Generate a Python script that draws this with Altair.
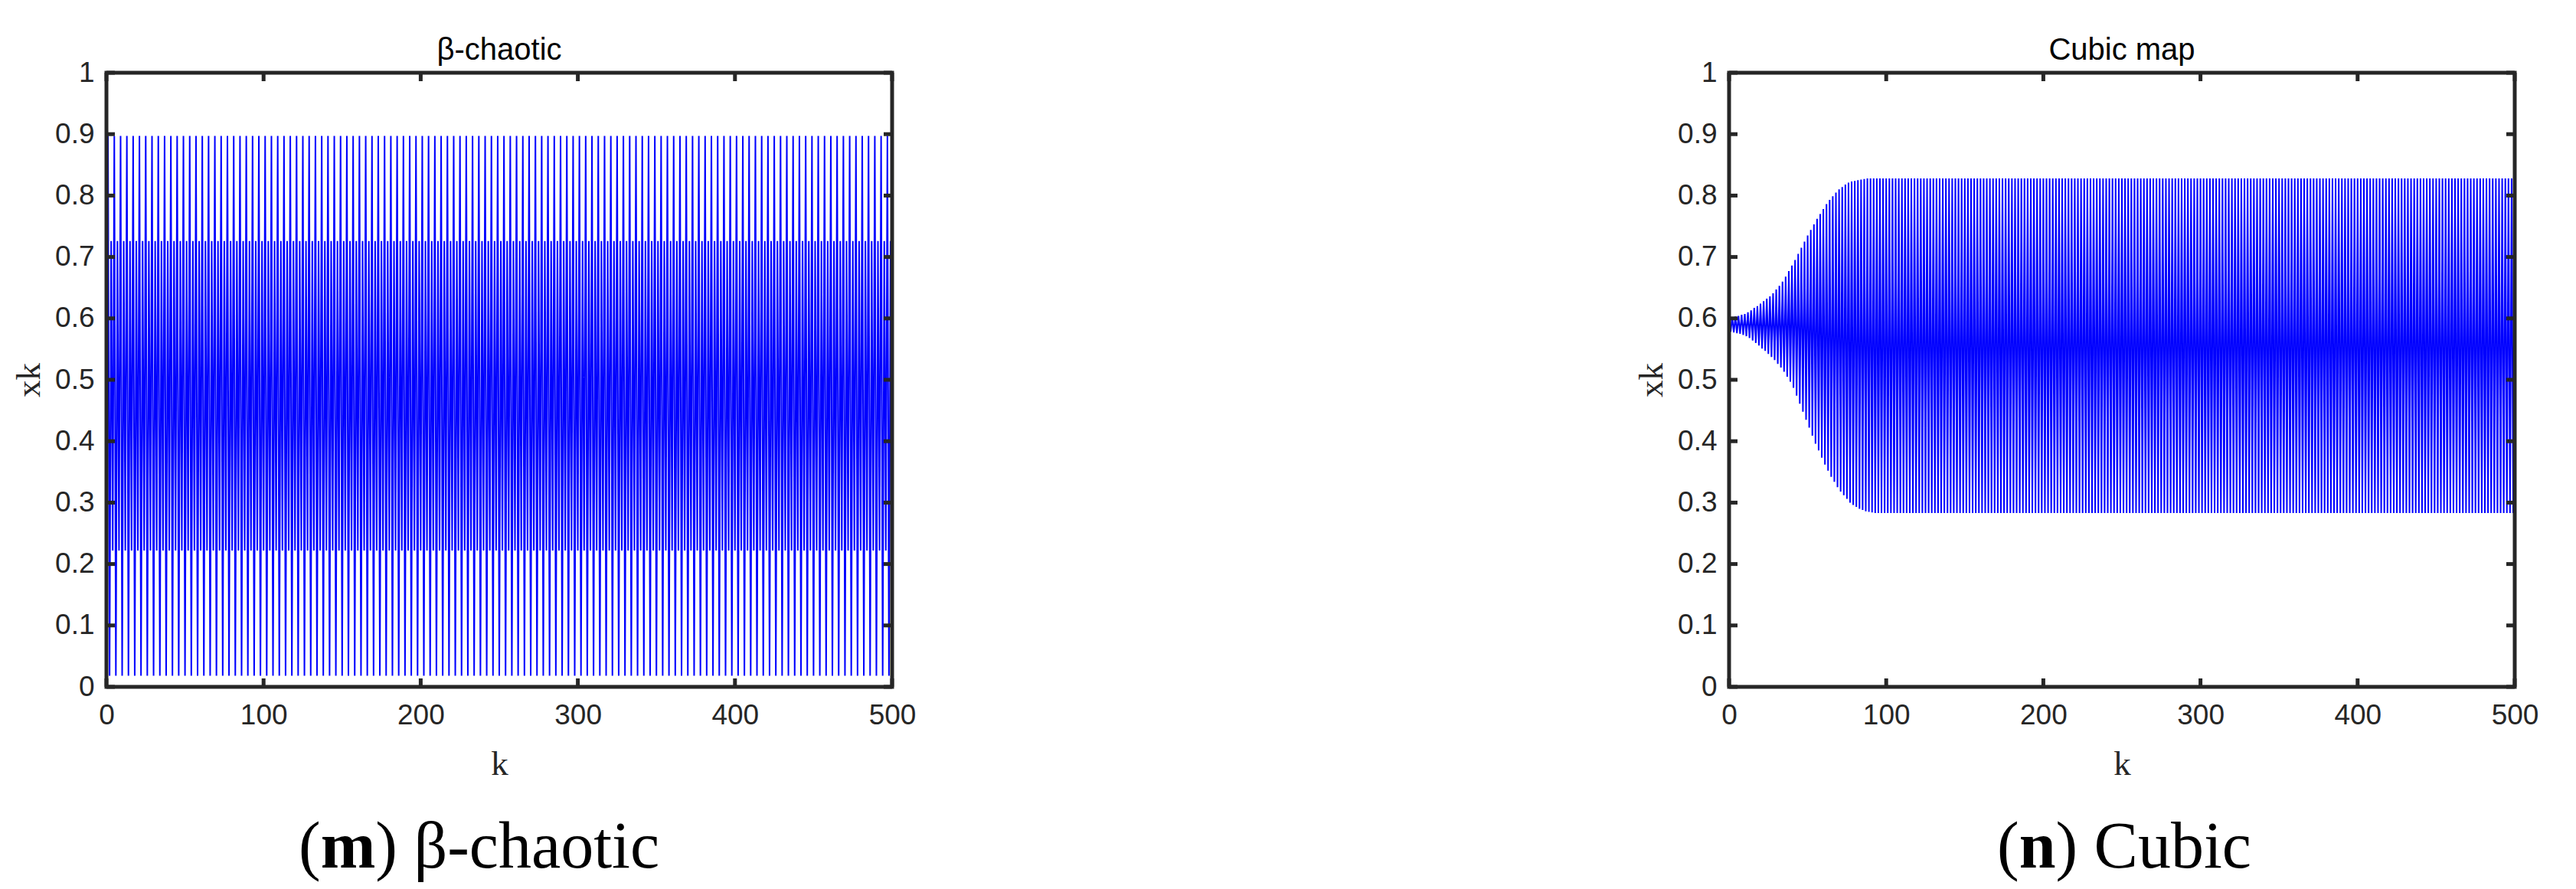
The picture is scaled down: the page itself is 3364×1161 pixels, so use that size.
import altair as alt
import pandas as pd

# ---------------- data (values in thousandths) ----------------
BETA = [700,
    897, 18, 726, 222, 897, 18, 726, 222, 897, 18, 726, 222, 897, 18, 726, 222, 897, 18, 726, 222,
    897, 18, 726, 222, 897, 18, 726, 222, 897, 18, 726, 222, 897, 18, 726, 222, 897, 18, 726, 222,
    897, 18, 726, 222, 897, 18, 726, 222, 897, 18, 726, 222, 897, 18, 726, 222, 897, 18, 726, 222,
    897, 18, 726, 222, 897, 18, 726, 222, 897, 18, 726, 222, 897, 18, 726, 222, 897, 18, 726, 222,
    897, 18, 726, 222, 897, 18, 726, 222, 897, 18, 726, 222, 897, 18, 726, 222, 897, 18, 726, 222,
    897, 18, 726, 222, 897, 18, 726, 222, 897, 18, 726, 222, 897, 18, 726, 222, 897, 18, 726, 222,
    897, 18, 726, 222, 897, 18, 726, 222, 897, 18, 726, 222, 897, 18, 726, 222, 897, 18, 726, 222,
    897, 18, 726, 222, 897, 18, 726, 222, 897, 18, 726, 222, 897, 18, 726, 222, 897, 18, 726, 222,
    897, 18, 726, 222, 897, 18, 726, 222, 897, 18, 726, 222, 897, 18, 726, 222, 897, 18, 726, 222,
    897, 18, 726, 222, 897, 18, 726, 222, 897, 18, 726, 222, 897, 18, 726, 222, 897, 18, 726, 222,
    897, 18, 726, 222, 897, 18, 726, 222, 897, 18, 726, 222, 897, 18, 726, 222, 897, 18, 726, 222,
    897, 18, 726, 222, 897, 18, 726, 222, 897, 18, 726, 222, 897, 18, 726, 222, 897, 18, 726, 222,
    897, 18, 726, 222, 897, 18, 726, 222, 897, 18, 726, 222, 897, 18, 726, 222, 897, 18, 726, 222,
    897, 18, 726, 222, 897, 18, 726, 222, 897, 18, 726, 222, 897, 18, 726, 222, 897, 18, 726, 222,
    897, 18, 726, 222, 897, 18, 726, 222, 897, 18, 726, 222, 897, 18, 726, 222, 897, 18, 726, 222,
    897, 18, 726, 222, 897, 18, 726, 222, 897, 18, 726, 222, 897, 18, 726, 222, 897, 18, 726, 222,
    897, 18, 726, 222, 897, 18, 726, 222, 897, 18, 726, 222, 897, 18, 726, 222, 897, 18, 726, 222,
    897, 18, 726, 222, 897, 18, 726, 222, 897, 18, 726, 222, 897, 18, 726, 222, 897, 18, 726, 222,
    897, 18, 726, 222, 897, 18, 726, 222, 897, 18, 726, 222, 897, 18, 726, 222, 897, 18, 726, 222,
    897, 18, 726, 222, 897, 18, 726, 222, 897, 18, 726, 222, 897, 18, 726, 222, 897, 18, 726, 222,
    897, 18, 726, 222, 897, 18, 726, 222, 897, 18, 726, 222, 897, 18, 726, 222, 897, 18, 726, 222,
    897, 18, 726, 222, 897, 18, 726, 222, 897, 18, 726, 222, 897, 18, 726, 222, 897, 18, 726, 222,
    897, 18, 726, 222, 897, 18, 726, 222, 897, 18, 726, 222, 897, 18, 726, 222, 897, 18, 726, 222,
    897, 18, 726, 222, 897, 18, 726, 222, 897, 18, 726, 222, 897, 18, 726, 222, 897, 18, 726, 222,
    897, 18, 726, 222, 897, 18, 726, 222, 897, 18, 726, 222, 897, 18, 726, 222, 897, 18, 726, 222,
]

CUBIC = [
    # k = 0 .. 93 : growing period-2 oscillation
    601, 578, 602, 577, 603, 576, 604, 575, 606, 573, 607, 571, 610, 568, 613, 564, 617, 560, 620, 556,
    624, 551, 628, 547, 632, 542, 636, 537, 641, 532, 647, 526, 653, 520, 660, 513, 668, 505, 677, 497,
    686, 487, 695, 474, 705, 461, 715, 448, 725, 435, 735, 422, 744, 409, 753, 396, 762, 385, 770, 373,
    778, 362, 786, 352, 793, 342, 799, 334, 805, 325, 810, 318, 814, 312, 818, 306, 821, 300, 823, 296,
    824, 293, 825, 290, 826, 288, 827, 286, 828, 285, 828, 284, 828, 283,
    # k = 94 .. 113
    828, 283, 828, 283, 828, 283, 828, 283, 828, 283, 828, 283, 828, 283, 828, 283, 828, 283, 828, 283,
    # k = 114 .. 133
    828, 283, 828, 283, 828, 283, 828, 283, 828, 283, 828, 283, 828, 283, 828, 283, 828, 283, 828, 283,
    # k = 134 .. 153
    828, 283, 828, 283, 828, 283, 828, 283, 828, 283, 828, 283, 828, 283, 828, 283, 828, 283, 828, 283,
    # k = 154 .. 173
    828, 283, 828, 283, 828, 283, 828, 283, 828, 283, 828, 283, 828, 283, 828, 283, 828, 283, 828, 283,
    # k = 174 .. 193
    828, 283, 828, 283, 828, 283, 828, 283, 828, 283, 828, 283, 828, 283, 828, 283, 828, 283, 828, 283,
    # k = 194 .. 213
    828, 283, 828, 283, 828, 283, 828, 283, 828, 283, 828, 283, 828, 283, 828, 283, 828, 283, 828, 283,
    # k = 214 .. 233
    828, 283, 828, 283, 828, 283, 828, 283, 828, 283, 828, 283, 828, 283, 828, 283, 828, 283, 828, 283,
    # k = 234 .. 253
    828, 283, 828, 283, 828, 283, 828, 283, 828, 283, 828, 283, 828, 283, 828, 283, 828, 283, 828, 283,
    # k = 254 .. 273
    828, 283, 828, 283, 828, 283, 828, 283, 828, 283, 828, 283, 828, 283, 828, 283, 828, 283, 828, 283,
    # k = 274 .. 293
    828, 283, 828, 283, 828, 283, 828, 283, 828, 283, 828, 283, 828, 283, 828, 283, 828, 283, 828, 283,
    # k = 294 .. 313
    828, 283, 828, 283, 828, 283, 828, 283, 828, 283, 828, 283, 828, 283, 828, 283, 828, 283, 828, 283,
    # k = 314 .. 333
    828, 283, 828, 283, 828, 283, 828, 283, 828, 283, 828, 283, 828, 283, 828, 283, 828, 283, 828, 283,
    # k = 334 .. 353
    828, 283, 828, 283, 828, 283, 828, 283, 828, 283, 828, 283, 828, 283, 828, 283, 828, 283, 828, 283,
    # k = 354 .. 373
    828, 283, 828, 283, 828, 283, 828, 283, 828, 283, 828, 283, 828, 283, 828, 283, 828, 283, 828, 283,
    # k = 374 .. 393
    828, 283, 828, 283, 828, 283, 828, 283, 828, 283, 828, 283, 828, 283, 828, 283, 828, 283, 828, 283,
    # k = 394 .. 413
    828, 283, 828, 283, 828, 283, 828, 283, 828, 283, 828, 283, 828, 283, 828, 283, 828, 283, 828, 283,
    # k = 414 .. 433
    828, 283, 828, 283, 828, 283, 828, 283, 828, 283, 828, 283, 828, 283, 828, 283, 828, 283, 828, 283,
    # k = 434 .. 453
    828, 283, 828, 283, 828, 283, 828, 283, 828, 283, 828, 283, 828, 283, 828, 283, 828, 283, 828, 283,
    # k = 454 .. 473
    828, 283, 828, 283, 828, 283, 828, 283, 828, 283, 828, 283, 828, 283, 828, 283, 828, 283, 828, 283,
    # k = 474 .. 493
    828, 283, 828, 283, 828, 283, 828, 283, 828, 283, 828, 283, 828, 283, 828, 283, 828, 283, 828, 283,
    # k = 494 .. 500
    828, 283, 828, 283, 828, 283, 828,
]

X_TICKS = [0, 100, 200, 300, 400, 500]
Y_TICKS = [0, 0.1, 0.2, 0.3, 0.4, 0.5, 0.6, 0.7, 0.8, 0.9, 1]

TITLES = ["β-chaotic", "Cubic map"]
CAP_LETTERS = ["m", "n"]
CAP_RESTS = [") β-chaotic", ") Cubic"]

# ---------------- style ----------------
W, H = 1026, 802
AX = "#262626"
BLUE = "#0000ff"
TL = 11
CAP_FS = 86
CAP_Y = 1038
SANS = "Liberation Sans"
SERIF = "Liberation Serif"
BOLD_W = {"m": 0.833, "n": 0.556}

XS = alt.Scale(domain=[0, 500], nice=False, zero=False)
YS = alt.Scale(domain=[0, 1], nice=False)
X_AXIS = alt.Axis(values=X_TICKS, title="k", labelPadding=19,
                  titleY=114, titleBaseline="alphabetic")
Y_AXIS = alt.Axis(values=Y_TICKS, format="~g", title="xk", labelPadding=16,
                  titleX=-101.5, titleY=H / 2, titleAngle=-90,
                  titleAlign="center", titleBaseline="middle")


def panel(values, title, letter, rest, cap_left):
    df = pd.DataFrame({"k": list(range(len(values))), "xk": [v / 1000 for v in values]})

    line = alt.Chart(df).mark_line(color=BLUE, strokeWidth=2, clip=True).encode(
        x=alt.X("k:Q", scale=XS, axis=X_AXIS),
        y=alt.Y("xk:Q", scale=YS, axis=Y_AXIS),
    )

    xt = pd.DataFrame({"k": X_TICKS})
    yt = pd.DataFrame({"xk": Y_TICKS})
    tick_b = alt.Chart(xt).mark_rule(color=AX, strokeWidth=5).encode(
        x=alt.X("k:Q", scale=XS, axis=X_AXIS), y=alt.value(H), y2=alt.value(H - TL))
    tick_t = alt.Chart(xt).mark_rule(color=AX, strokeWidth=5).encode(
        x=alt.X("k:Q", scale=XS, axis=X_AXIS), y=alt.value(0), y2=alt.value(TL))
    tick_l = alt.Chart(yt).mark_rule(color=AX, strokeWidth=5).encode(
        y=alt.Y("xk:Q", scale=YS, axis=Y_AXIS), x=alt.value(0), x2=alt.value(TL))
    tick_r = alt.Chart(yt).mark_rule(color=AX, strokeWidth=5).encode(
        y=alt.Y("xk:Q", scale=YS, axis=Y_AXIS), x=alt.value(W), x2=alt.value(W - TL))

    one = alt.Data(values=[{}])
    frame = alt.Chart(one).mark_rect(fillOpacity=0, stroke=AX, strokeWidth=5).encode(
        x=alt.value(0), x2=alt.value(W), y=alt.value(0), y2=alt.value(H))

    ttl = alt.Chart(one).mark_text(text=title, font=SANS, fontSize=40, align="center",
                                   baseline="alphabetic", color="black").encode(
        x=alt.value(W / 2), y=alt.value(-17))

    p_w = 0.333 * CAP_FS
    b_w = BOLD_W[letter] * CAP_FS
    c1 = alt.Chart(one).mark_text(text="(", font=SERIF, fontSize=CAP_FS, align="left",
                                  baseline="alphabetic", color="black").encode(
        x=alt.value(cap_left), y=alt.value(CAP_Y))
    c2 = alt.Chart(one).mark_text(text=letter, font=SERIF, fontSize=CAP_FS, fontWeight="bold",
                                  align="left", baseline="alphabetic", color="black").encode(
        x=alt.value(cap_left + p_w), y=alt.value(CAP_Y))
    c3 = alt.Chart(one).mark_text(text=rest, font=SERIF, fontSize=CAP_FS, align="left",
                                  baseline="alphabetic", color="black").encode(
        x=alt.value(cap_left + p_w + b_w), y=alt.value(CAP_Y))

    return alt.layer(line, tick_b, tick_t, tick_l, tick_r, frame, ttl, c1, c2, c3).properties(
        width=W, height=H,
    )


left = panel(BETA, TITLES[0], CAP_LETTERS[0], CAP_RESTS[0], 251)
right = panel(CUBIC, TITLES[1], CAP_LETTERS[1], CAP_RESTS[1], 350)

chart = alt.hconcat(left, right, spacing=938).properties(
    padding={"left": 7, "top": 38, "right": 0, "bottom": 30}
).configure_view(stroke=None).configure_axis(
    domain=False, ticks=False, grid=False,
    labelFont=SANS, labelFontSize=37, labelColor=AX,
    labelFlush=False, labelOverlap=False, labelBound=False,
    titleFont=SERIF, titleFontSize=45, titleFontWeight="normal", titleColor=AX,
)

chart.save("out.html", embed_options={"renderer": "svg", "actions": False})
